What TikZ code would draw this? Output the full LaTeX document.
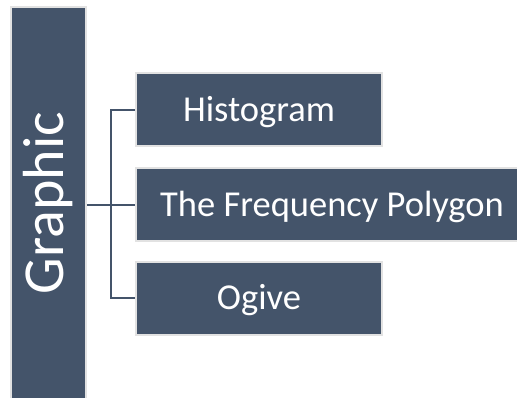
\documentclass[tikz,border=0pt]{standalone}
\usepackage{fontspec}
\setmainfont{Carlito}
\definecolor{slate}{HTML}{44546A}
\definecolor{rim}{HTML}{E2E2E2}

\tikzset{
  tile/.style={draw=rim, line width=2pt, fill=slate, text=white, inner sep=0pt},
  branch/.style={tile, font=\fontsize{36.5}{40}\selectfont,
    text height=23.5pt, text depth=0pt, minimum height=73pt},
  link/.style={draw=slate, line width=2pt}
}

\begin{document}
\begin{tikzpicture}[x=1pt, y=-1pt]

          \useasboundingbox (0, 0) rectangle (517, 397);

          \node[tile, minimum width=75pt, minimum height=392pt,
            font=\fontsize{58}{60}\selectfont] (graphic) at (48.5, 203) {\rotatebox{90}{Graphic}};

          \node[branch, minimum width=246pt] (hist) at (259, 109.5) {Histogram};
          \node[branch, minimum width=392pt] (freq) at (332, 204.5) {The Frequency Polygon};
          \node[branch, minimum width=246pt] (ogive) at (259, 298) {Ogive};

          \coordinate (split) at (111, 204.5);

          \draw[link] (graphic.east |- freq.west) -- (freq.west);
          \draw[link] (hist.west) -| (split) |- (ogive.west);

        \end{tikzpicture}
\end{document}
